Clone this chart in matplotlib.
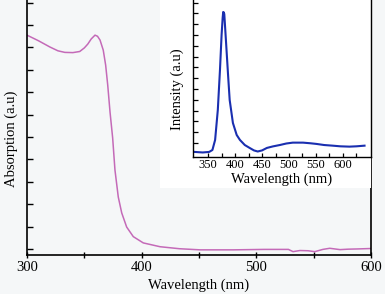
import numpy as np
import matplotlib
matplotlib.use("Agg")
import matplotlib.pyplot as plt
from matplotlib.patches import Rectangle

# --- data ---
# absorption spectrum (main panel)
abs_wl = [300, 310, 320, 327, 333, 340, 346, 350, 353, 356, 359.3, 361.5,
          363.7, 366.5, 368.6, 370.4, 372.4, 374.7, 376.7, 379.6, 382.6,
          386.9, 392.7, 401.4, 416, 433, 451, 480, 507, 528, 532, 538, 545,
          551, 558, 564, 573, 580, 588, 600]
abs_val = [9.55, 9.30, 9.02, 8.85, 8.78, 8.77, 8.82, 8.98, 9.15, 9.38, 9.55,
           9.50, 9.33, 8.88, 8.21, 7.32, 6.12, 4.96, 3.53, 2.32, 1.61, 0.98,
           0.55, 0.27, 0.10, 0.01, -0.04, -0.04, -0.02, -0.02, -0.12, -0.07,
           -0.08, -0.12, -0.02, 0.03, -0.03, -0.01, 0.00, 0.02]

# photoluminescence spectrum (inset)
pl_wl = [325, 340, 352, 358, 363, 368, 372, 375, 377, 378, 379, 380, 383,
         387, 390, 396, 403, 409, 418, 427, 435, 442, 450, 459, 470, 483,
         495, 507, 526, 540, 551, 565, 581, 595, 612, 625, 640]
pl_val = [-0.83, -0.88, -0.83, -0.65, 0.28, 3.06, 6.76, 10.0, 11.6, 12.13,
          12.1, 11.94, 9.54, 6.30, 3.98, 1.85, 0.74, 0.28, -0.19, -0.46,
          -0.69, -0.79, -0.69, -0.46, -0.32, -0.19, -0.05, 0.03, 0.03, -0.03,
          -0.09, -0.19, -0.25, -0.31, -0.34, -0.31, -0.25]

main_xticks = [300, 400, 500, 600]
inset_xticks = [350, 400, 450, 500, 550, 600]

plt.rcParams['font.family'] = ['Liberation Serif', 'DejaVu Serif']

bg = '#f5f7f8'
fig = plt.figure(figsize=(3.85, 2.94), dpi=100, facecolor=bg)

# main axes
ax = fig.add_axes([27/385, 1 - 255/294, 344/385, 255/294], facecolor=bg)
ax.set_zorder(0)
ax.plot(abs_wl, abs_val, color='#c46ab8', lw=1.1)
ax.set_xlim(300, 600)
ax.set_ylim(-0.27, 11.12)
ax.set_xticks(main_xticks)
ax.set_xticks([350, 450, 550], minor=True)
ax.set_yticks(range(0, 12))
ax.set_yticklabels([])
ax.tick_params(axis='y', direction='in', length=4.5, width=1, left=True, right=False)
ax.tick_params(axis='x', which='both', direction='inout', length=5, width=1,
               labelsize=10.5, pad=2)
ax.spines['top'].set_visible(False)
for s in ['left', 'bottom', 'right']:
    ax.spines[s].set_linewidth(1.2)
ax.set_xlabel('Wavelength (nm)', fontsize=10.5, labelpad=3)
ax.set_ylabel('Absorption (a.u)', fontsize=10.5)
ax.yaxis.set_label_coords(-0.026, 0.455)

# inset, sitting on a white box that also holds its labels
ins = fig.add_axes([193/385, 1 - 157/294, 178/385, 157/294], facecolor='white')
ins.set_zorder(2)
box = Rectangle((160/385, 1 - 188/294), 211/385, 188/294,
                transform=fig.transFigure, facecolor='white',
                edgecolor='none', zorder=1)
fig.add_artist(box)

ins.plot(pl_wl, pl_val, color='#1a2fb0', lw=1.5)
ins.set_xlim(322, 652)
ins.set_ylim(-1.3, 13.24)
ins.set_xticks(inset_xticks)
ins.set_xticks([375, 425, 475, 525, 575, 625], minor=True)
ins.set_yticks(range(0, 14))
ins.set_yticklabels([])
ins.tick_params(axis='y', direction='in', length=3.5, width=0.9)
ins.tick_params(axis='x', which='both', direction='in', length=3, width=0.9,
                labelsize=9, pad=1.5)
ins.spines['top'].set_visible(False)
for s in ['left', 'bottom', 'right']:
    ins.spines[s].set_linewidth(1.0)
ins.set_xlabel('Wavelength (nm)', fontsize=10.5, labelpad=1)
ins.set_ylabel('Intensity (a.u)', fontsize=10.5)
ins.yaxis.set_label_coords(-0.05, 0.433)

fig.savefig('out.png', dpi=100, facecolor=bg)
